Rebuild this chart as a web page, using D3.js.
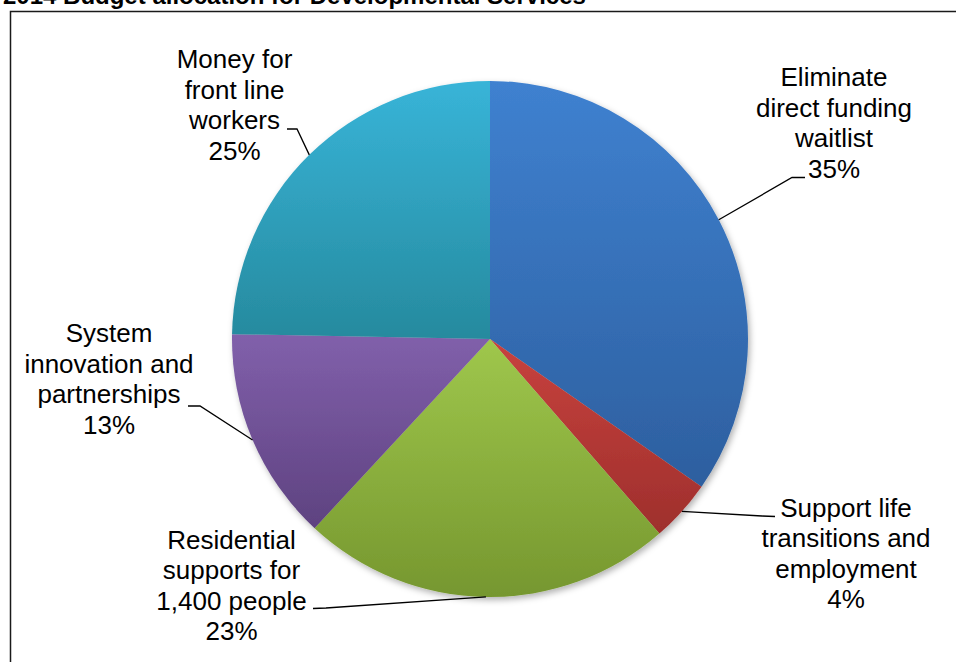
<!DOCTYPE html>
<html>
<head>
<meta charset="utf-8">
<script src="https://cdn.jsdelivr.net/npm/d3@7"></script>
<style>
  html, body { margin: 0; padding: 0; background: #fff; }
  svg { display: block; }
</style>
</head>
<body>
<div id="chart"></div>
<script>
// Donnees du graphique
const title = "2014 Budget allocation for Developmental Services";
const categories = [
  "Eliminate direct funding waitlist",
  "Support life transitions and employment",
  "Residential supports for 1,400 people",
  "System innovation and partnerships",
  "Money for front line workers"
];
const values = [34.7, 3.9, 23.3, 13.4, 24.7];
const labelLines = [
  ["Eliminate", "direct funding", "waitlist"],
  ["Support life", "transitions and", "employment"],
  ["Residential", "supports for", "1,400 people"],
  ["System", "innovation and", "partnerships"],
  ["Money for", "front line", "workers"]
];

// couleurs (haut -> bas du degrade)
const colorsTop = ["#3f81d0", "#c8423e", "#9fc74c", "#8160ab", "#38b4d8"];
const colorsBottom = ["#2d5f9f", "#9e2f2c", "#76972f", "#5e4280", "#268a9e"];

// placement manuel des etiquettes (centre x, 1e ligne de base, coude du trait)
const labelLayout = [
  { x: 834, y: 86, knee: [[805, 177.5], [792, 177.5]] },
  { x: 846, y: 516.5, knee: [[775, 516.5], [762, 516]] },
  { x: 231.5, y: 548.5, knee: [[313, 608.5], [326, 608]] },
  { x: 109, y: 342, knee: [[188, 406], [200, 406]] },
  { x: 234.5, y: 68, knee: [[287, 129], [297, 129]] }
];

const width = 956,
    height = 662,
    cx = 490,
    cy = 339,
    radius = 258,
    lineHeight = 30.6;

const svg = d3
    .select("#chart")
    .append("svg")
    .attr("width", width)
    .attr("height", height);

const defs = svg.append("defs");

defs.append("filter")
    .attr("id", "ombre")
    .attr("x", "-10%").attr("y", "-10%")
    .attr("width", "120%").attr("height", "120%")
  .append("feDropShadow")
    .attr("dx", 2)
    .attr("dy", 3)
    .attr("stdDeviation", 3)
    .attr("flood-color", "#000")
    .attr("flood-opacity", 0.3);

categories.forEach((c, i) => {
  const g = defs.append("linearGradient")
      .attr("id", "grad" + i)
      .attr("x1", 0).attr("y1", 0)
      .attr("x2", 0).attr("y2", 1);
  g.append("stop").attr("offset", "0%").attr("stop-color", colorsTop[i]);
  g.append("stop").attr("offset", "100%").attr("stop-color", colorsBottom[i]);
});

// titre (coupe en haut, comme l'original)
svg.append("text")
    .attr("x", 3)
    .attr("y", 4)
    .style("font-family", "'Liberation Sans', Arial, sans-serif")
    .style("font-weight", "bold")
    .style("font-size", "24px")
    .text(title);

// cadre
svg.append("path")
    .attr("d", `M10.5,${height + 5}V11.5H${width + 5}`)
    .attr("fill", "none")
    .attr("stroke", "#1a1a1a")
    .attr("stroke-width", 1.5);

const pie = d3.pie().sort(null).value(d => d)(values);
const arc = d3.arc().innerRadius(0).outerRadius(radius);

const g = svg.append("g")
    .attr("transform", `translate(${cx},${cy})`);

g.append("g")
    .attr("filter", "url(#ombre)")
    .selectAll("path")
    .data(pie)
    .join("path")
    .attr("d", arc)
    .attr("fill", (d, i) => `url(#grad${i})`);

const fmt = d => Math.round(d) + "%";
const total = d3.sum(values);

// traits de rappel
const edgePoint = d => {
  const a = (d.startAngle + d.endAngle) / 2;
  return [cx + radius * Math.sin(a), cy - radius * Math.cos(a)];
};

svg.append("g")
    .selectAll("path")
    .data(pie)
    .join("path")
    .attr("d", (d, i) => d3.line()([...labelLayout[i].knee, edgePoint(d)]))
    .attr("fill", "none")
    .attr("stroke", "#000")
    .attr("stroke-width", 1.3);

// etiquettes
const labels = svg.append("g")
    .style("font-family", "'Liberation Sans', Arial, sans-serif")
    .style("font-size", "26px")
    .attr("text-anchor", "middle")
    .attr("fill", "#000");

labels.selectAll("text")
    .data(pie)
    .join("text")
    .attr("x", (d, i) => labelLayout[i].x)
    .attr("y", (d, i) => labelLayout[i].y)
    .selectAll("tspan")
    .data((d, i) => [...labelLines[i], fmt(d.data / total * 100)])
    .join("tspan")
    .attr("x", function () { return d3.select(this.parentNode).attr("x"); })
    .attr("dy", (d, j) => j === 0 ? 0 : lineHeight)
    .text(d => d);
</script>
</body>
</html>
